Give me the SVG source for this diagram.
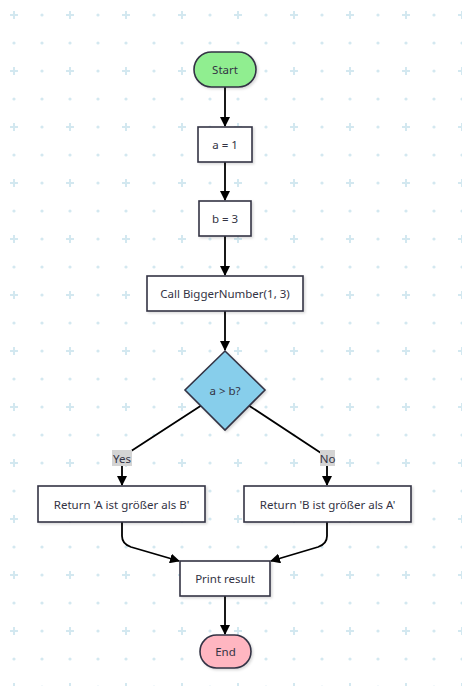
<svg xmlns="http://www.w3.org/2000/svg" width="462" height="686" viewBox="0 0 462 686">
<defs>
<pattern id="grid" x="0" y="0" width="56" height="56" patternUnits="userSpaceOnUse">
<path d="M10 15 H18 M14 11 V19" stroke="#d3e8f0" stroke-width="2"/>
<circle cx="42" cy="15" r="1.6" fill="#d3e8f0"/>
<circle cx="14" cy="43" r="1.6" fill="#d3e8f0"/>
<circle cx="42" cy="43" r="1.6" fill="#d3e8f0"/>
</pattern>
<marker id="arr" markerWidth="10" markerHeight="10" refX="9" refY="5" orient="auto" markerUnits="userSpaceOnUse">
<path d="M0 0 L10 5 L0 10 Z" fill="#000"/>
</marker>
<filter id="sh" x="-10%" y="-10%" width="130%" height="140%">
<feDropShadow dx="1.5" dy="1.5" stdDeviation="1" flood-color="#000" flood-opacity="0.15"/>
</filter>
</defs>
<style>
.n{stroke:#333344;stroke-width:1.6;filter:url(#sh)}
.box{fill:#ffffff}
.t{font-family:"Noto Sans","Liberation Sans",sans-serif;font-size:11.5px;fill:#333344;text-anchor:middle;dominant-baseline:central}
.e{fill:none;stroke:#000;stroke-width:1.8}
.lb{fill:#d4d4d4}
</style>
<rect width="462" height="686" fill="#ffffff"/>
<rect width="462" height="686" fill="url(#grid)"/>
<g id="connectors">
<path class="e" d="M225 87 V126" marker-end="url(#arr)"/>
<path class="e" d="M225 162 V200" marker-end="url(#arr)"/>
<path class="e" d="M225 236 V275" marker-end="url(#arr)"/>
<path class="e" d="M225 311 V350" marker-end="url(#arr)"/>
<path class="e" d="M202 405 L125 455 Q122 457 122 461 V485" marker-end="url(#arr)"/>
<path class="e" d="M248 405 L324 455 Q327 457 327 461 V485" marker-end="url(#arr)"/>
<path class="e" d="M122 522 V536 Q122 544 131 547 L179 561" marker-end="url(#arr)"/>
<path class="e" d="M327 522 V536 Q327 544 318 547 L271 561" marker-end="url(#arr)"/>
<path class="e" d="M225 596 V634" marker-end="url(#arr)"/>
<rect class="lb" x="112" y="450" width="20" height="16"/>
<text class="t" x="122" y="458">Yes</text>
<rect class="lb" x="320" y="450" width="15" height="16"/>
<text class="t" x="327.5" y="458">No</text>
</g>
<g id="start"><rect class="n" x="194" y="52" width="62" height="35" rx="17.5" fill="#90ee90"/><text class="t" x="225" y="69.5">Start</text></g>
<g id="a1"><rect class="n box" x="198" y="127" width="54" height="35"/><text class="t" x="225" y="144.5">a = 1</text></g>
<g id="b3"><rect class="n box" x="199" y="201" width="52" height="35"/><text class="t" x="225" y="218.5">b = 3</text></g>
<g id="call"><rect class="n box" x="147" y="276" width="156" height="35"/><text class="t" x="225" y="293.5">Call BiggerNumber(1, 3)</text></g>
<g id="cond"><path class="n" d="M225 351 L265 390 L225 430 L185 390 Z" fill="#87ceeb"/><text class="t" x="225" y="390">a &gt; b?</text></g>
<g id="retA"><rect class="n box" x="38" y="486" width="167" height="36"/><text class="t" x="121.5" y="504">Return 'A ist größer als B'</text></g>
<g id="retB"><rect class="n box" x="244" y="486" width="167" height="36"/><text class="t" x="327.5" y="504">Return 'B ist größer als A'</text></g>
<g id="print"><rect class="n box" x="180" y="561" width="90" height="35"/><text class="t" x="225" y="578.5">Print result</text></g>
<g id="end"><rect class="n" x="200" y="635" width="51" height="33" rx="16.5" fill="#ffb6c1"/><text class="t" x="225.5" y="651.5">End</text></g>
</svg>
